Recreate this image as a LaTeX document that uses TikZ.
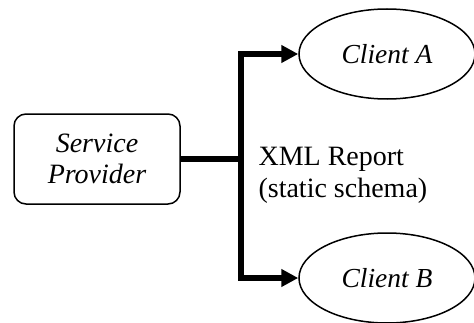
\documentclass[tikz,border=0pt]{standalone}
\usepackage{fontspec}
\setmainfont{Liberation Serif}
\usetikzlibrary{arrows.meta}
\usetikzlibrary{positioning}
\usetikzlibrary{shapes.geometric}

\begin{document}
\begin{tikzpicture}[line join=miter,x=1pt,y=1pt,
  box/.style={draw,line width=1.5pt,rounded corners=12pt,minimum width=166pt,minimum height=90pt,align=center,font=\fontsize{28}{31}\selectfont\itshape},
  client/.style={draw,ellipse,line width=1.5pt,minimum width=176pt,minimum height=90pt,font=\fontsize{27.5}{31}\selectfont\itshape},
  link/.style={line width=6pt},
  >={Triangle[length=17pt,width=17pt]}]
\useasboundingbox (0,0) rectangle (474,322);
\node[box] (sp) at (97,163) {Service\\Provider};
\node[client] (ca) at (387,268) {Client A};
\node[client] (cb) at (387,44) {Client B};
\coordinate (j) at (240.5,163);
\draw [link] (sp.east) -- (j);
\draw [link,->] (j) |- (ca.west);
\draw [link,->] (j) |- (cb.west);
\node[anchor=west,align=left,font=\fontsize{28}{32}\selectfont] (rep) at (255,147) {XML Report\\(static schema)};
\end{tikzpicture}
\end{document}
